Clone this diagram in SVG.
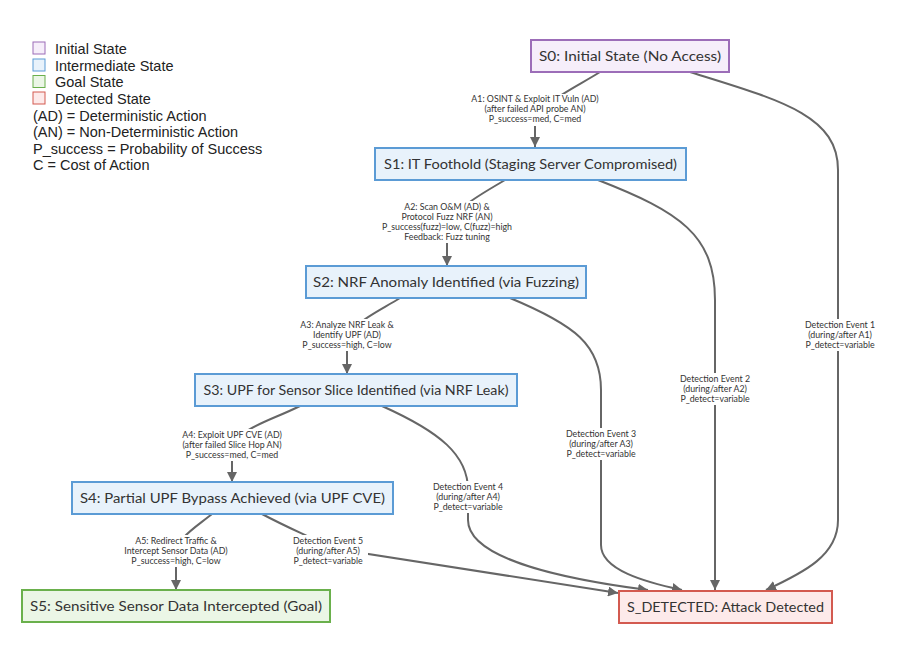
<svg xmlns="http://www.w3.org/2000/svg" width="899" height="664" viewBox="0 0 899 664">
<defs>
<marker id="arr" viewBox="0 0 10 10" refX="10" refY="5" markerWidth="10" markerHeight="10" markerUnits="userSpaceOnUse" orient="auto">
<path d="M0,0 L10,5 L0,10 z" fill="#666"/>
</marker>
<style>
.leg{font-family:"Liberation Sans",Arial,sans-serif;font-size:14.5px;fill:#222}
.node text{font-family:Lato,"Open Sans",sans-serif;font-size:13.5px;fill:#333;text-anchor:middle;dominant-baseline:central}
.blue rect{fill:#e8f2fb;stroke:#5b9bd5;stroke-width:2}
.purple rect{fill:#f6eefa;stroke:#9c6db8;stroke-width:2}
.green rect{fill:#ebf6e6;stroke:#6ab04c;stroke-width:2}
.red rect{fill:#fdeaea;stroke:#d35a50;stroke-width:2}
.edge{fill:none;stroke:#666;stroke-width:2}
.lbl rect{fill:#fff}
.lbl text{font-family:Lato,"Open Sans",sans-serif;font-size:8.8px;fill:#333;text-anchor:middle}
</style>
</defs>
<rect width="899" height="664" fill="#fff"/>

<g id="legend">
<rect x="33" y="42" width="12" height="12" fill="#f6eefa" stroke="#9c6db8"/>
<rect x="33" y="59" width="12" height="12" fill="#e8f2fb" stroke="#5b9bd5"/>
<rect x="33" y="75.5" width="12" height="12" fill="#ebf6e6" stroke="#6ab04c"/>
<rect x="33" y="92" width="12" height="12" fill="#fdeaea" stroke="#d35a50"/>
<text class="leg" x="55" y="53.5">Initial State</text>
<text class="leg" x="55" y="70.5">Intermediate State</text>
<text class="leg" x="55" y="87">Goal State</text>
<text class="leg" x="55" y="103.5">Detected State</text>
<text class="leg" x="33" y="120.5">(AD) = Deterministic Action</text>
<text class="leg" x="33" y="137">(AN) = Non-Deterministic Action</text>
<text class="leg" x="33" y="153.5">P_success = Probability of Success</text>
<text class="leg" x="33" y="170">C = Cost of Action</text>
</g>

<g id="connectors">
<path class="edge" d="M600,72 C575,88 535,105 535,125 L535,147" marker-end="url(#arr)"/>
<path class="edge" d="M690,72 C780,100 838,115 838,170 L838,520 C838,555 805,572 766,590" marker-end="url(#arr)"/>
<path class="edge" d="M505,180 C475,198 447,212 447,235 L447,266" marker-end="url(#arr)"/>
<path class="edge" d="M598,180 C680,212 715,235 715,300 L715,590" marker-end="url(#arr)"/>
<path class="edge" d="M400,298 C372,315 347,325 347,345 L347,374" marker-end="url(#arr)"/>
<path class="edge" d="M510,298 C575,325 601,345 601,390 L601,545 C601,570 645,582 682,590" marker-end="url(#arr)"/>
<path class="edge" d="M300,406 C268,422 232,430 232,452 L232,482" marker-end="url(#arr)"/>
<path class="edge" d="M382,406 C440,432 468,455 468,490 L468,520 C468,560 570,580 648,590" marker-end="url(#arr)"/>
<path class="edge" d="M212,514 C192,530 176,538 176,558 L176,590" marker-end="url(#arr)"/>
<path class="edge" d="M262,514 C292,530 318,540 330,548 L618,593" marker-end="url(#arr)"/>

<g class="lbl">
<rect x="464" y="94" width="142" height="32"/>
<text x="535" y="102">A1: OSINT &amp; Exploit IT Vuln (AD)</text>
<text x="535" y="112">(after failed API probe AN)</text>
<text x="535" y="122">P_success=med, C=med</text>
</g>
<g class="lbl">
<rect x="374" y="201" width="146" height="42"/>
<text x="447" y="210">A2: Scan O&amp;M (AD) &amp;</text>
<text x="447" y="220">Protocol Fuzz NRF (AN)</text>
<text x="447" y="230">P_success(fuzz)=low, C(fuzz)=high</text>
<text x="447" y="240">Feedback: Fuzz tuning</text>
</g>
<g class="lbl">
<rect x="293" y="319" width="108" height="32"/>
<text x="347" y="328">A3: Analyze NRF Leak &amp;</text>
<text x="347" y="338">Identify UPF (AD)</text>
<text x="347" y="348">P_success=high, C=low</text>
</g>
<g class="lbl">
<rect x="172" y="429" width="120" height="32"/>
<text x="232" y="438">A4: Exploit UPF CVE (AD)</text>
<text x="232" y="448">(after failed Slice Hop AN)</text>
<text x="232" y="458">P_success=med, C=med</text>
</g>
<g class="lbl">
<rect x="117" y="535" width="118" height="32"/>
<text x="176" y="544">A5: Redirect Traffic &amp;</text>
<text x="176" y="554">Intercept Sensor Data (AD)</text>
<text x="176" y="564">P_success=high, C=low</text>
</g>
<g class="lbl">
<rect x="800" y="319" width="80" height="32"/>
<text x="840" y="328">Detection Event 1</text>
<text x="840" y="338">(during/after A1)</text>
<text x="840" y="348">P_detect=variable</text>
</g>
<g class="lbl">
<rect x="675" y="373" width="80" height="32"/>
<text x="715" y="382">Detection Event 2</text>
<text x="715" y="392">(during/after A2)</text>
<text x="715" y="402">P_detect=variable</text>
</g>
<g class="lbl">
<rect x="561" y="428" width="80" height="32"/>
<text x="601" y="437">Detection Event 3</text>
<text x="601" y="447">(during/after A3)</text>
<text x="601" y="457">P_detect=variable</text>
</g>
<g class="lbl">
<rect x="428" y="481" width="80" height="32"/>
<text x="468" y="490">Detection Event 4</text>
<text x="468" y="500">(during/after A4)</text>
<text x="468" y="510">P_detect=variable</text>
</g>
<g class="lbl">
<rect x="288" y="535" width="80" height="32"/>
<text x="328" y="544">Detection Event 5</text>
<text x="328" y="554">(during/after A5)</text>
<text x="328" y="564">P_detect=variable</text>
</g>
</g>

<g id="S0" class="node purple"><rect x="531" y="40" width="198" height="32"/><text x="630" y="56" textLength="182" lengthAdjust="spacingAndGlyphs">S0: Initial State (No Access)</text></g>
<g id="S1" class="node blue"><rect x="375" y="148" width="311" height="32"/><text x="530.5" y="164" textLength="293" lengthAdjust="spacingAndGlyphs">S1: IT Foothold (Staging Server Compromised)</text></g>
<g id="S2" class="node blue"><rect x="306" y="266" width="280" height="32"/><text x="446" y="282" textLength="266" lengthAdjust="spacingAndGlyphs">S2: NRF Anomaly Identified (via Fuzzing)</text></g>
<g id="S3" class="node blue"><rect x="195" y="374" width="322" height="32"/><text x="356" y="390" textLength="305" lengthAdjust="spacingAndGlyphs">S3: UPF for Sensor Slice Identified (via NRF Leak)</text></g>
<g id="S4" class="node blue"><rect x="72" y="482" width="321" height="32"/><text x="232.5" y="498" textLength="305" lengthAdjust="spacingAndGlyphs">S4: Partial UPF Bypass Achieved (via UPF CVE)</text></g>
<g id="S5" class="node green"><rect x="22" y="590" width="308" height="32"/><text x="176" y="606" textLength="292" lengthAdjust="spacingAndGlyphs">S5: Sensitive Sensor Data Intercepted (Goal)</text></g>
<g id="S_DETECTED" class="node red"><rect x="619" y="591" width="213" height="32"/><text x="725.5" y="607" textLength="197" lengthAdjust="spacingAndGlyphs">S_DETECTED: Attack Detected</text></g>
</svg>
